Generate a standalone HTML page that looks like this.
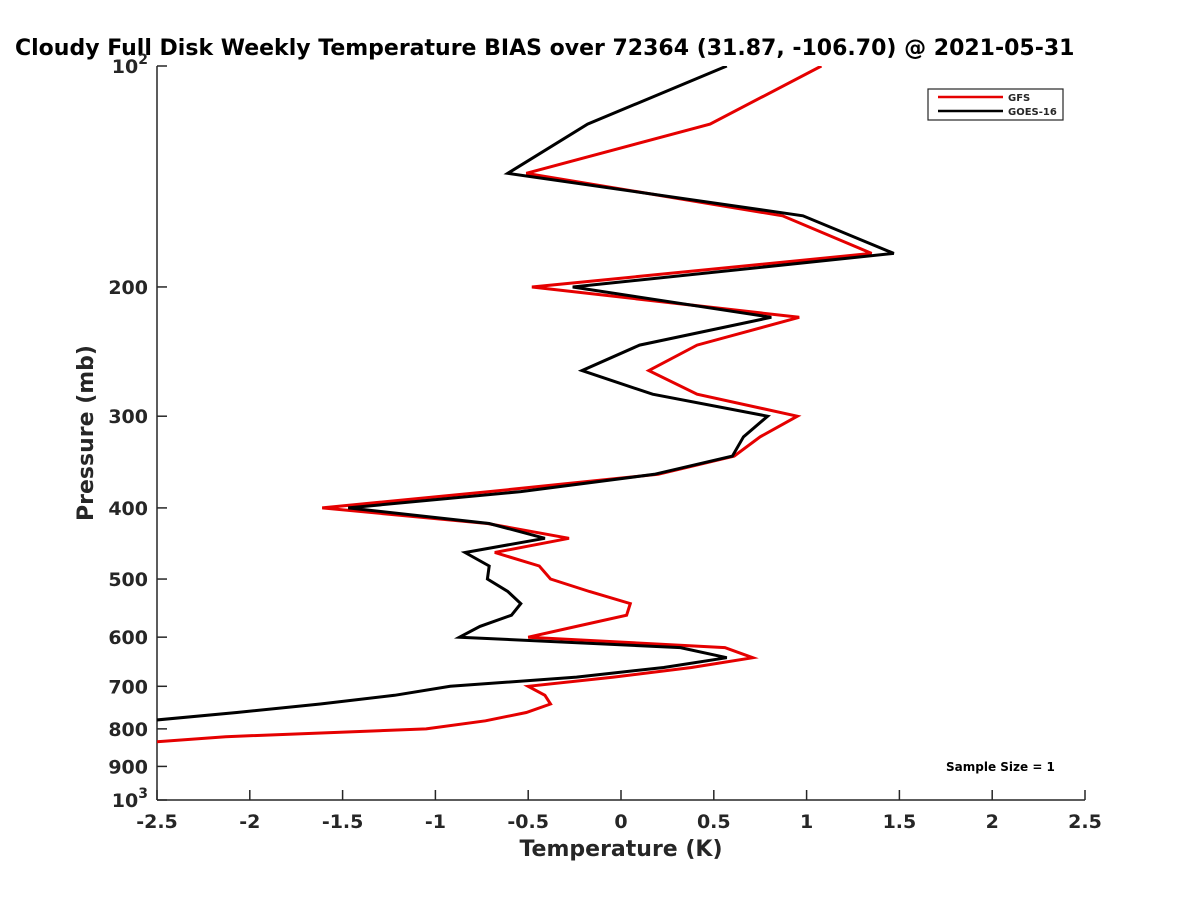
<!DOCTYPE html>
<html><head><meta charset="utf-8"><style>
body{margin:0;background:#fff;overflow:hidden}
svg text{font-family:"DejaVu Sans","Liberation Sans",sans-serif;font-weight:bold;fill:#262626}
</style></head><body>
<svg id="chart" width="1200" height="900" viewBox="0 0 1200 900">
<rect width="1200" height="900" fill="#fff"/>
<text x="15" y="55" font-size="22" style="fill:#000">Cloudy Full Disk Weekly Temperature BIAS over 72364 (31.87, -106.70) @ 2021-05-31</text>
<defs><clipPath id="plotclip"><rect x="157" y="66" width="928" height="734"/></clipPath></defs>
<g id="axes"></g>
<g id="series" clip-path="url(#plotclip)"></g>
<g>
<rect x="928" y="89" width="135" height="31" fill="#fff" stroke="#262626" stroke-width="1.2"/>
<line x1="938" y1="97" x2="1003" y2="97" stroke="#e50000" stroke-width="2.5"/>
<text x="1008" y="101" font-size="10">GFS</text>
<line x1="938" y1="111" x2="1003" y2="111" stroke="#000" stroke-width="2.5"/>
<text x="1008" y="115" font-size="10">GOES-16</text>
</g>
<text x="946" y="771" font-size="12" style="fill:#000">Sample Size = 1</text>
<text x="621" y="856" font-size="22" text-anchor="middle">Temperature (K)</text>
<text transform="translate(93,433) rotate(-90)" font-size="22" text-anchor="middle">Pressure (mb)</text>
</svg>
<script>
const pressures = [100,120,140,160,180,200,220,240,260,280,300,320,340,360,380,400,420,440,460,480,500,520,540,560,580,600,620,640,660,680,700,720,740,760,780,800,820,840,860];
const gfsBias = [1.08,0.48,-0.51,0.87,1.35,-0.48,0.96,0.41,0.15,0.41,0.95,0.75,0.61,0.20,-0.71,-1.61,-0.72,-0.28,-0.68,-0.44,-0.38,-0.17,0.05,0.03,-0.24,-0.50,0.56,0.71,0.38,-0.04,-0.50,-0.41,-0.38,-0.51,-0.73,-1.05,-2.13,-2.7,-3.0];
const goesBias = [0.57,-0.18,-0.61,0.98,1.47,-0.26,0.81,0.10,-0.21,0.17,0.79,0.66,0.60,0.18,-0.54,-1.47,-0.71,-0.41,-0.84,-0.71,-0.72,-0.61,-0.54,-0.59,-0.76,-0.87,0.32,0.57,0.23,-0.24,-0.92,-1.22,-1.62,-2.07,-2.55,-3.0,-3.0,-3.0,-3.0];
const xTicks = [-2.5,-2,-1.5,-1,-0.5,0,0.5,1,1.5,2,2.5];
const yTicks = [100,200,300,400,500,600,700,800,900,1000];
const yTickLabels = ["10²","200","300","400","500","600","700","800","900","10³"];
const X0=157,X1=1085,Y0=66,Y1=800;
function xs(v){return X0+(v+2.5)/5*(X1-X0);}
function ys(p){return Y0+(Math.log10(p)-2)*(Y1-Y0);}
const NS="http://www.w3.org/2000/svg";
const axes=document.getElementById('axes');
function mk(t,a,parent){const e=document.createElementNS(NS,t);for(const k in a)e.setAttribute(k,a[k]);parent.appendChild(e);return e;}
const xl=mk('line',{x1:X0,y1:Y1,x2:X1,y2:Y1,stroke:'#262626','stroke-width':1.5},axes);


const yl=mk('line',{x1:X0,y1:Y0,x2:X0,y2:Y1,stroke:'#262626','stroke-width':1.5},axes);


xTicks.forEach(v=>{
  const x=xs(v);
  mk('line',{x1:x,y1:Y1,x2:x,y2:Y1-10,stroke:'#262626','stroke-width':1.5},axes);
  const t=mk('text',{x:x,y:828,'font-size':19,'text-anchor':'middle'},axes);
  
  
  t.textContent=String(v);
});
yTicks.forEach((p,i)=>{
  const y=ys(p);
  mk('line',{x1:X0,y1:y,x2:X0+10,y2:y,stroke:'#262626','stroke-width':1.5},axes);
  const t=mk('text',{x:148,y:y+7,'font-size':19,'text-anchor':'end'},axes);
  
  
  const lab=yTickLabels[i];
  if(lab.length===3&&(lab[2]==='²'||lab[2]==='³')){
    t.textContent='10';
    const s=mk('tspan',{dy:-9,'font-size':14},t);
    s.textContent=lab[2]==='²'?'2':'3';
  } else t.textContent=lab;
});
const series=document.getElementById('series');
function line(vals,color,name){
  const d=vals.map((v,i)=>(i?'L':'M')+xs(v).toFixed(1)+','+ys(pressures[i]).toFixed(1)).join('');
  const p=mk('path',{d:d,fill:'none',stroke:color,'stroke-width':3,'stroke-linejoin':'miter'},series);
  
  
}
line(gfsBias,'#e50000','gfs-line');
line(goesBias,'#000','goes16-line');
</script>
</body></html>
